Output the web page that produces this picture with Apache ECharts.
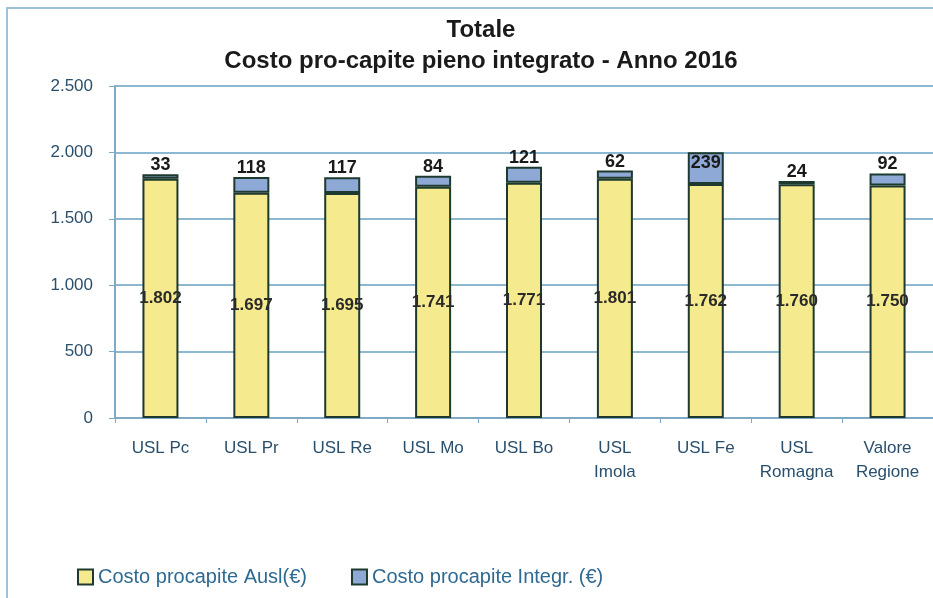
<!DOCTYPE html>
<html lang="it">

<head>
    <meta charset="utf-8">
    <title>Costo pro-capite</title>
    <script src="https://cdn.jsdelivr.net/npm/echarts@6/dist/echarts.min.js"></script>
    <style>
        html, body { margin: 0; padding: 0; background: #fff; overflow: hidden; }
        #frame {
            position: absolute; left: 6px; top: 7px; width: 940px; height: 600px;
            border: 2px solid #9cc3d8; box-sizing: border-box;
        }
        #container { position: absolute; left: 0; top: 0; width: 933px; height: 598px; }
    </style>
</head>

<body>
<div id="frame"></div>
<div id="container"></div>
<script>
    const categories = ["USL Pc", "USL Pr", "USL Re", "USL Mo", "USL Bo", "USL\nImola", "USL Fe", "USL\nRomagna", "Valore\nRegione"];
    const costoAusl = [1802, 1697, 1695, 1741, 1771, 1801, 1762, 1760, 1750];
    const costoIntegr = [33, 118, 117, 84, 121, 62, 239, 24, 92];
    const seriesNames = ["Costo procapite Ausl(€)", "Costo procapite Integr. (€)"];

    const fmt = v => String(v).replace(/\B(?=(\d{3})+(?!\d))/g, ".");
    const font = "'Liberation Sans', Arial, sans-serif";

    const integrData = costoIntegr.map((v, i) => {
        // the tallest bar has its label drawn inside the segment
        if (costoAusl[i] + v >= 2000) {
            return { value: v, label: { position: "insideTop", distance: 2 } };
        }
        return v;
    });

    const option = {
        animation: false,
        textStyle: { fontFamily: font },
        title: {
            text: "Totale\nCosto pro-capite pieno integrato - Anno 2016",
            left: 476,
            textAlign: "center",
            top: 10,
            textStyle: { fontSize: 24, fontWeight: "bold", color: "#1a1a1a", lineHeight: 31, fontFamily: font }
        },
        legend: {
            data: seriesNames,
            left: 72,
            top: 562,
            itemWidth: 15,
            itemHeight: 15,
            itemGap: 44,
            icon: "rect",
            textStyle: { fontSize: 20, color: "#2f6a92", fontFamily: font }
        },
        grid: {
            left: 115,
            top: 86,
            width: 828,
            height: 332
        },
        xAxis: {
            type: "category",
            data: categories,
            axisLine: { lineStyle: { color: "#7fa9c4", width: 2 } },
            axisTick: { show: true, alignWithLabel: false, length: 5, lineStyle: { color: "#7fa9c4" } },
            axisLabel: { fontSize: 17, color: "#2a4f6c", lineHeight: 24, margin: 18, interval: 0, fontFamily: font }
        },
        yAxis: {
            type: "value",
            min: 0,
            max: 2500,
            interval: 500,
            axisLine: { show: true, lineStyle: { color: "#7fa9c4", width: 2 } },
            axisTick: { show: true, length: 6, lineStyle: { color: "#7fa9c4" } },
            axisLabel: { fontSize: 17, color: "#2a4f6c", margin: 22, formatter: fmt, fontFamily: font },
            splitLine: { lineStyle: { color: "#8db8d2", width: 2 } }
        },
        series: [
            {
                name: seriesNames[0],
                type: "bar",
                stack: "tot",
                barWidth: 36,
                data: costoAusl,
                itemStyle: { color: "#f6ea8e", borderColor: "#1e3a2e", borderWidth: 2 },
                label: {
                    show: true,
                    position: "inside",
                    formatter: p => fmt(p.value),
                    fontSize: 17,
                    fontWeight: "bold",
                    color: "#2a2a2a",
                    fontFamily: font
                }
            },
            {
                name: seriesNames[1],
                type: "bar",
                stack: "tot",
                barWidth: 36,
                data: integrData,
                itemStyle: { color: "#8fa9d6", borderColor: "#1e3a2e", borderWidth: 2 },
                label: {
                    show: true,
                    position: "top",
                    distance: 0,
                    formatter: p => fmt(p.value),
                    fontSize: 18,
                    fontWeight: "bold",
                    color: "#1a1a1a",
                    fontFamily: font
                }
            }
        ]
    };

    let chart = echarts.init(document.getElementById("container"));
    chart.setOption(option);
</script>
</body>

</html>
